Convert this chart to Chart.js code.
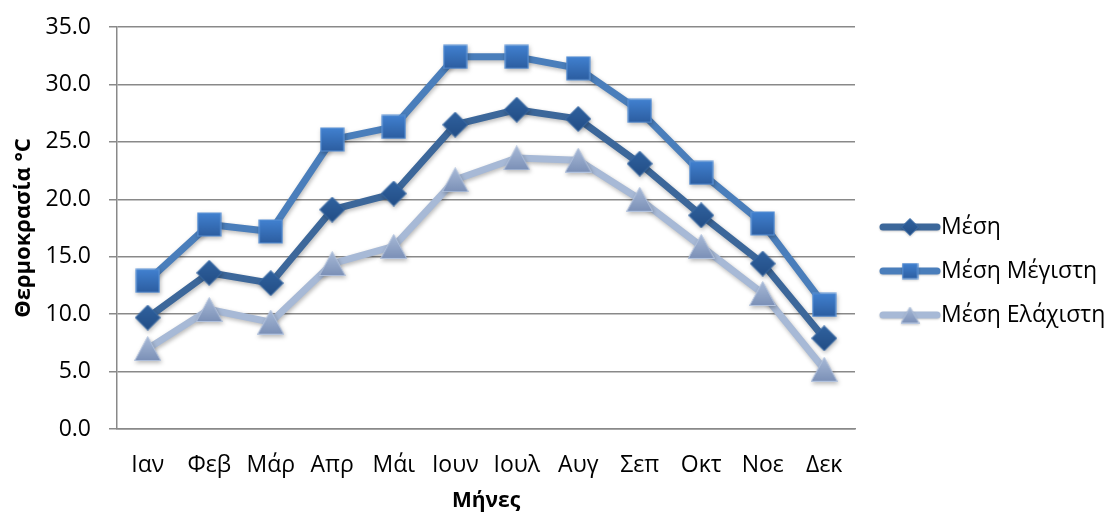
<!DOCTYPE html>
<html>
<head>
<meta charset="utf-8">
<script src="https://cdn.jsdelivr.net/npm/chart.js@4/dist/chart.umd.min.js"></script>
<style>
  html, body { margin: 0; padding: 0; background: #fff; }
  canvas { display: block; }
</style>
</head>
<body>
<canvas id="c" width="1110" height="517"></canvas>
<script>
const months = ['Ιαν','Φεβ','Μάρ','Απρ','Μάι','Ιουν','Ιουλ','Αυγ','Σεπ','Οκτ','Νοε','Δεκ'];
const mesi     = [9.7, 13.6, 12.7, 19.1, 20.5, 26.5, 27.8, 27.0, 23.1, 18.6, 14.4, 7.9];
const megisti  = [12.9, 17.8, 17.2, 25.2, 26.3, 32.4, 32.4, 31.4, 27.7, 22.3, 17.9, 10.8];
const elaxisti = [7.0, 10.4, 9.3, 14.4, 15.9, 21.7, 23.6, 23.4, 20.0, 15.9, 11.8, 5.2];
const seriesNames = ['Μέση', 'Μέση Μέγιστη', 'Μέση Ελάχιστη'];
const yTicks = [0, 5, 10, 15, 20, 25, 30, 35];

const FONT = '"Open Sans", "Noto Sans", sans-serif';

function makeMarker(kind, s) {
  const c = document.createElement('canvas');
  const w = s, h = kind === 'tri' ? Math.round(s * 0.92) : s;
  c.width = w; c.height = h;
  const g = c.getContext('2d');
  let grad = g.createLinearGradient(0, 0, 0, h);
  g.beginPath();
  if (kind === 'sq') {
    grad.addColorStop(0, '#4282D2'); grad.addColorStop(1, '#2B5C9E');
    g.rect(1, 1, w - 2, h - 2);
    g.fillStyle = grad; g.fill();
    g.lineWidth = 1.2; g.strokeStyle = '#5A92D6'; g.stroke();
  } else if (kind === 'dia') {
    grad.addColorStop(0, '#30629F'); grad.addColorStop(1, '#224D85');
    g.moveTo(w / 2, 0.5); g.lineTo(w - 0.5, h / 2); g.lineTo(w / 2, h - 0.5); g.lineTo(0.5, h / 2); g.closePath();
    g.fillStyle = grad; g.fill();
    g.lineWidth = 1; g.strokeStyle = '#3D6EAA'; g.stroke();
  } else {
    grad.addColorStop(0, '#A9BBD8'); grad.addColorStop(1, '#7A8FB6');
    g.moveTo(w / 2, 0.5); g.lineTo(w - 0.5, h - 0.5); g.lineTo(0.5, h - 0.5); g.closePath();
    g.fillStyle = grad; g.fill();
    g.lineWidth = 1; g.strokeStyle = '#B4C4DE'; g.stroke();
  }
  return c;
}

const mDia = makeMarker('dia', 26), mSq = makeMarker('sq', 25), mTri = makeMarker('tri', 27);
const lDia = makeMarker('dia', 18), lSq = makeMarker('sq', 17), lTri = makeMarker('tri', 19);
const lineColors = ['#3C679A', '#4A7EBB', '#A7B9D6'];
const legendMarkers = [lDia, lSq, lTri];

const shadowPlugin = {
  id: 'shadow',
  beforeDatasetDraw(chart) {
    const ctx = chart.ctx;
    ctx.save();
    ctx.shadowColor = 'rgba(0,0,0,0.28)';
    ctx.shadowBlur = 4;
    ctx.shadowOffsetX = 1;
    ctx.shadowOffsetY = 2;
  },
  afterDatasetDraw(chart) {
    chart.ctx.restore();
  }
};

const legendPlugin = {
  id: 'customLegend',
  afterDraw(chart) {
    const ctx = chart.ctx;
    const ys = [227, 271, 315];
    ctx.save();
    seriesNames.forEach((name, i) => {
      const y = ys[i];
      ctx.save();
      ctx.shadowColor = 'rgba(0,0,0,0.2)';
      ctx.shadowBlur = 2; ctx.shadowOffsetY = 1;
      ctx.strokeStyle = lineColors[i];
      ctx.lineWidth = 7; ctx.lineCap = 'round';
      ctx.beginPath(); ctx.moveTo(883, y); ctx.lineTo(937, y); ctx.stroke();
      const m = legendMarkers[i];
      ctx.drawImage(m, 910 - m.width / 2, y - m.height / 2);
      ctx.restore();
      ctx.fillStyle = '#000';
      ctx.font = '23px ' + FONT;
      ctx.textBaseline = 'middle';
      ctx.textAlign = 'left';
      ctx.fillText(name, 941, y);
    });
    ctx.restore();
  }
};

const grid = '#898989';

new Chart(document.getElementById('c'), {
  type: 'line',
  data: {
    labels: months,
    datasets: [
      { label: seriesNames[0], data: mesi, borderColor: lineColors[0], backgroundColor: lineColors[0],
        borderWidth: 7, pointStyle: mDia, pointRadius: 13, order: 3, borderCapStyle: 'round', borderJoinStyle: 'round' },
      { label: seriesNames[1], data: megisti, borderColor: lineColors[1], backgroundColor: lineColors[1],
        borderWidth: 7, pointStyle: mSq, pointRadius: 13, order: 2, borderCapStyle: 'round', borderJoinStyle: 'round' },
      { label: seriesNames[2], data: elaxisti, borderColor: lineColors[2], backgroundColor: lineColors[2],
        borderWidth: 7, pointStyle: mTri, pointRadius: 13, order: 1, borderCapStyle: 'round', borderJoinStyle: 'round' }
    ]
  },
  options: {
    responsive: false,
    animation: false,
    devicePixelRatio: 1,
    layout: { padding: { top: 27, right: 255, left: 0, bottom: 0 } },
    plugins: { legend: { display: false }, tooltip: { enabled: false } },
    elements: { line: { tension: 0 } },
    scales: {
      x: {
        offset: true,
        grid: { display: false },
        border: { display: true, color: grid, width: 1.5 },
        ticks: { color: '#000', font: { family: FONT, size: 23 }, padding: 15, autoSkip: false, maxRotation: 0 },
        title: { display: true, text: 'Μήνες', color: '#000', font: { family: FONT, size: 21, weight: 'bold' }, padding: { top: 0, bottom: 3 } },
        afterFit(s) { s.height = 88; s.paddingLeft = 0; s.paddingRight = 0; }
      },
      y: {
        min: 0, max: 35,
        afterBuildTicks(s) { s.ticks = yTicks.map(v => ({ value: v })); },
        grid: { color: grid, lineWidth: 1.5, tickLength: 8, drawTicks: true },
        border: { display: true, color: grid, width: 1.5 },
        ticks: { color: '#000', font: { family: FONT, size: 23 }, padding: 18, callback: v => Number(v).toFixed(1) },
        title: { display: true, text: 'Θερμοκρασία °C', color: '#000', font: { family: FONT, size: 22, weight: 'bold' }, padding: { top: 11, bottom: 0 } },
        afterFit(s) { s.width = 117; s.paddingTop = 0; s.paddingBottom = 0; }
      }
    }
  },
  plugins: [shadowPlugin, legendPlugin]
});
</script>
</body>
</html>
